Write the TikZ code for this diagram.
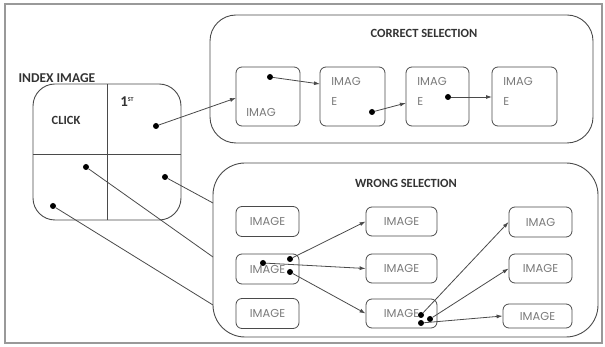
\documentclass[tikz,border=0pt]{standalone}
\usepackage{fontspec}
\setmainfont{Carlito}
\newfontfamily\boxfont{Poppins}
\usetikzlibrary{arrows.meta}
\definecolor{ln}{HTML}{4A4A4A}
\definecolor{tx}{HTML}{7A7A7A}
\tikzset{
  frame/.style={draw=ln, line width=0.9pt, rounded corners=#1},
  imgbox/.style={draw=ln, line width=0.8pt, rounded corners=6pt, font=\boxfont\fontsize{11.5}{12}\selectfont, text=tx},
  ttl/.style={font=\bfseries\fontsize{12.5}{13}\selectfont, text=black!80},
  conn/.style={draw=ln, line width=0.8pt},
  arr/.style={conn, -{Latex[length=6pt,width=4pt]}},
  dot/.style={circle, fill=black, inner sep=0pt, minimum size=6pt},
}
\begin{document}
\begin{tikzpicture}[x=1pt,y=-1pt]
\useasboundingbox (0,0) rectangle (605,347);
% outer frame
\draw[draw=gray!80, line width=1.4pt] (5,4) rectangle (602,343);
% index image
\node[ttl, anchor=west, font=\bfseries\fontsize{13.5}{14}\selectfont] (idxt) at (15,78) {INDEX IMAGE};
\draw[frame=22pt] (33,84) rectangle (181,220);
\draw[conn] (107,84) -- (107,220);
\draw[conn] (33,154) -- (181,154);
\node[ttl] (click) at (66,120) {CLICK};
\node[font=\bfseries\fontsize{15}{15}\selectfont, text=black!80] (first) at (127,102) {1\raisebox{0.8ex}{\fontsize{6}{6}\selectfont ST}};
\node[dot] (d1) at (156,126) {};
\node[dot] (d2) at (86,167) {};
\node[dot] (d3) at (165,177) {};
\node[dot] (d4) at (53,206) {};
% correct selection
\draw[frame=26pt] (210,15) rectangle (593,143);
\node[ttl] (ct) at (424,33) {CORRECT SELECTION};
\node[imgbox, minimum width=64pt, minimum height=59pt] (c1) at (268,96.5) {};
\node[imgbox, minimum width=65pt, minimum height=59pt] (c2) at (352.5,96.5) {};
\node[imgbox, minimum width=63pt, minimum height=59pt] (c3) at (437.5,96.5) {};
\node[imgbox, minimum width=65pt, minimum height=59pt] (c4) at (524.5,96.5) {};
\node[imgbox, draw=none, anchor=west, inner sep=0pt] (c1t) at (246,112) {IMAG};
\node[imgbox, draw=none, anchor=west, inner sep=0pt] (c2t) at (331,81) {IMAG};
\node[imgbox, draw=none, anchor=west, inner sep=0pt] (c2e) at (331,101) {E};
\node[imgbox, draw=none, anchor=west, inner sep=0pt] (c3t) at (417,81) {IMAG};
\node[imgbox, draw=none, anchor=west, inner sep=0pt] (c3e) at (417,101) {E};
\node[imgbox, draw=none, anchor=west, inner sep=0pt] (c4t) at (503,81) {IMAG};
\node[imgbox, draw=none, anchor=west, inner sep=0pt] (c4e) at (503,101) {E};
\node[dot] (cd1) at (270,77) {};
\node[dot] (cd2) at (372,112) {};
\node[dot] (cd3) at (448,97) {};
\coordinate (c1in) at (236,98);
\coordinate (c2in) at (320,84);
\coordinate (c3in) at (406,103);
\coordinate (c4in) at (492,97);
\draw[arr] (d1) -- (c1in);
\draw[arr] (cd1) -- (c2in);
\draw[arr] (cd2) -- (c3in);
\draw[arr] (cd3) -- (c4in);
% wrong selection
\draw[frame=32pt] (213,163) rectangle (598,337);
\node[ttl] (wt) at (406,183) {WRONG SELECTION};
\node[imgbox, minimum width=63pt, minimum height=30pt] (w11) at (267.5,221.5) {IMAGE};
\node[imgbox, minimum width=63pt, minimum height=30pt] (w12) at (267.5,269) {IMAGE};
\node[imgbox, minimum width=63pt, minimum height=30pt] (w13) at (267.5,313.5) {IMAGE};
\node[imgbox, minimum width=71pt, minimum height=29pt] (w21) at (401.5,221.5) {IMAGE};
\node[imgbox, minimum width=71pt, minimum height=29pt] (w22) at (401.5,268.5) {IMAGE};
\node[imgbox, minimum width=71pt, minimum height=29pt] (w23) at (401.5,313.5) {IMAGE};
\node[imgbox, minimum width=63pt, minimum height=30pt] (w31) at (540.5,222) {IMAG};
\node[imgbox, minimum width=63pt, minimum height=29pt] (w32) at (540.5,268.5) {IMAGE};
\node[imgbox, minimum width=69pt, minimum height=24pt] (w33) at (537.5,316) {IMAGE};
% lines from index to wrong box
\coordinate (wa) at (213,203);
\coordinate (wb) at (213,257);
\coordinate (wc) at (213,305);
\draw[conn] (d3) -- (wa);
\draw[conn] (d2) -- (wb);
\draw[conn] (d4) -- (wc);
% wrong arrows
\node[dot] (wd1) at (263,263) {};
\node[dot] (wd2) at (290,259) {};
\node[dot] (wd3) at (290,272) {};
\draw[arr] (wd1) -- (w22.west);
\draw[arr] (wd2) -- (w21.west);
\draw[arr] (wd3) -- (w23.west);
\node[dot] (wd4) at (421,315) {};
\node[dot] (wd5) at (430,319) {};
\node[dot] (wd6) at (421,323) {};
\draw[arr] (wd4) -- (w31.west);
\draw[arr] (wd5) -- (w32.west);
\draw[arr] (wd6) -- (w33.west);
\end{tikzpicture}
\end{document}
